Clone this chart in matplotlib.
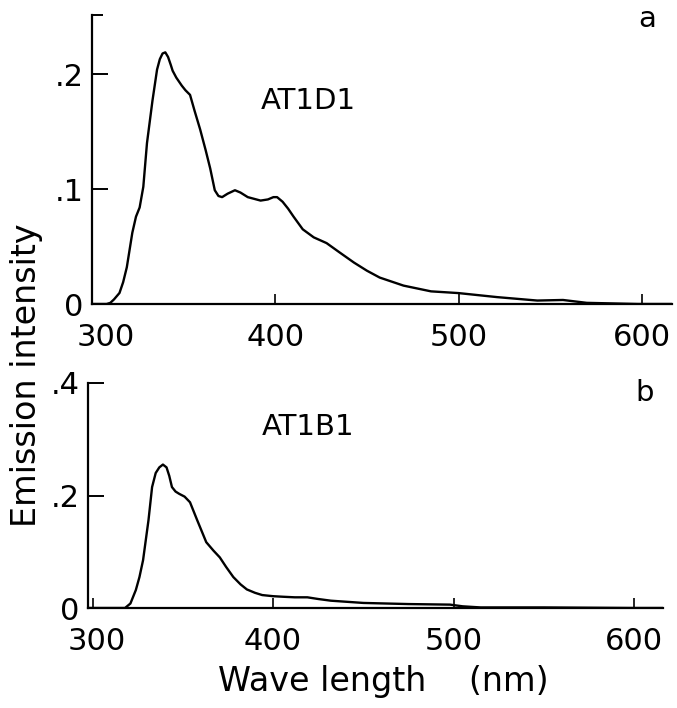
import matplotlib
matplotlib.use("Agg")
import matplotlib.pyplot as plt
from matplotlib.transforms import ScaledTranslation

# ---- data ----
wl_a = [300, 308, 310, 312, 315, 317, 319, 322, 324, 326, 328, 330, 333, 335.5, 337,
        338.5, 340, 341.5, 343, 344, 346, 349, 351, 353.5, 356, 359, 362, 364.5, 367,
        369, 371, 374, 378, 381, 385, 392, 396, 399, 401, 404, 407, 410, 415, 421,
        428, 435, 443, 450, 457, 470, 485, 500, 521, 543, 557, 570, 598, 616]
int_a = [0, 0, 0.001, 0.004, 0.0096, 0.019, 0.032, 0.062, 0.076, 0.084, 0.102, 0.14,
         0.177, 0.204, 0.213, 0.218, 0.219, 0.215, 0.208, 0.203, 0.197, 0.19, 0.186,
         0.182, 0.168, 0.152, 0.134, 0.118, 0.099, 0.094, 0.093, 0.096, 0.099, 0.097,
         0.093, 0.090, 0.091, 0.093, 0.093, 0.089, 0.083, 0.076, 0.065, 0.058, 0.053,
         0.045, 0.036, 0.029, 0.023, 0.016, 0.011, 0.0095, 0.006, 0.003, 0.0035, 0.001,
         0, 0]

wl_b = [297, 318, 321, 324, 326, 328, 331, 333, 335, 337, 339, 341, 342.5, 344, 346,
        348, 351, 354, 356, 358, 363, 367, 370.5, 374, 378, 382, 385.5, 390, 394,
        400, 405.5, 412, 419, 425, 432, 450, 475, 498, 505, 515, 550, 600, 616]
int_b = [0, 0, 0.008, 0.032, 0.055, 0.085, 0.156, 0.215, 0.24, 0.25, 0.255, 0.25,
         0.235, 0.215, 0.207, 0.203, 0.198, 0.188, 0.172, 0.156, 0.117, 0.102, 0.09,
         0.073, 0.055, 0.042, 0.033, 0.027, 0.023, 0.021, 0.020, 0.019, 0.019, 0.016,
         0.013, 0.009, 0.007, 0.006, 0.003, 0.001, 0.001, 0, 0]

x_ticks = [300, 400, 500, 600]
x_ticklabels = ["300", "400", "500", "600"]
ya_ticks = [0, 0.1, 0.2]
ya_ticklabels = ["0", ".1", ".2"]
yb_ticks = [0, 0.2, 0.4]
yb_ticklabels = ["0", ".2", ".4"]

plt.rcParams["font.family"] = ["DejaVu Sans"]

W, H = 677, 708
fig = plt.figure(figsize=(W / 100, H / 100), dpi=100)


def px_axes(left, top, right, bottom):
    return fig.add_axes([left / W, 1 - bottom / H, (right - left) / W, (bottom - top) / H])


def style(ax, xlim, ylim, yticks, yticklabels, first_shift):
    ax.set_xlim(*xlim)
    ax.set_ylim(*ylim)
    for s in ("top", "right"):
        ax.spines[s].set_visible(False)
    for s in ("left", "bottom"):
        ax.spines[s].set_linewidth(1.6)
    ax.set_xticks(x_ticks)
    ax.set_xticklabels(x_ticklabels)
    ax.set_yticks(yticks)
    ax.set_yticklabels(yticklabels)
    ax.set_yticks([ylim[1]], minor=True)
    ax.tick_params(axis="x", direction="in", length=7, width=1.2, pad=13.5, labelsize=22)
    ax.tick_params(axis="y", direction="in", length=11.5, width=1.4, pad=6, labelsize=22)
    ax.tick_params(axis="y", which="minor", direction="in", length=8, width=1.4)
    ax.tick_params(axis="x", which="minor", length=0)
    lab = ax.get_xticklabels()[0]
    lab.set_transform(lab.get_transform() + ScaledTranslation(first_shift / 100, 0, fig.dpi_scale_trans))


ax1 = px_axes(92, 15, 672, 304)
ax1.plot(wl_a, int_a, color="black", lw=1.7, solid_joinstyle="round")
style(ax1, (300, 616.5), (0, 0.2515), ya_ticks, ya_ticklabels, 14)

ax2 = px_axes(88, 383, 663, 608)
ax2.plot(wl_b, int_b, color="black", lw=1.7, solid_joinstyle="round")
style(ax2, (297.5, 616), (0, 0.4), yb_ticks, yb_ticklabels, 4)

fig.text(308 / W, 1 - 101 / H, "AT1D1", fontsize=21, ha="center", va="center")
fig.text(308 / W, 1 - 427 / H, "AT1B1", fontsize=21, ha="center", va="center")
fig.text(647 / W, 1 - 19 / H, "a", fontsize=21, ha="center", va="center")
fig.text(645 / W, 1 - 393 / H, "b", fontsize=21, ha="center", va="center")

fig.text(27 / W, 1 - 375 / H, "Emission intensity", fontsize=24, rotation=90,
         ha="center", va="center")
fig.text(383 / W, 1 - 681 / H, "Wave length    (nm)", fontsize=24,
         ha="center", va="center")

fig.savefig("out.png", dpi=100)
